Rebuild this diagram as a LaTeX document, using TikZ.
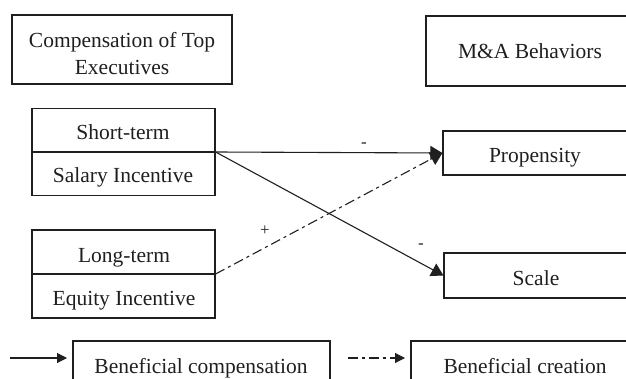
\documentclass[tikz,border=0pt]{standalone}
\usepackage{fontspec}
\setmainfont{Liberation Serif}
\usetikzlibrary{arrows.meta}
\definecolor{ink}{gray}{0.12}
\tikzset{
  box/.style={draw=ink, line width=1.2pt, rectangle, inner sep=0pt},
  txt/.style={inner sep=0pt, anchor=base, font=\fontsize{21.5}{27}\selectfont, text=ink},
  lbl/.style={inner sep=0pt, font=\fontsize{17}{18}\selectfont, text=ink},
  conn/.style={draw=ink, line width=1.1pt, -{Triangle[length=12pt,width=14pt]}},
  legarrow/.style={draw=ink, line width=1.1pt, -{Triangle[length=10pt,width=10pt]}},
  dashdot/.style={dash pattern=on 10pt off 4pt on 3pt off 4pt}
}
\begin{document}
\begin{tikzpicture}[x=1pt,y=-1pt]
\useasboundingbox (0,0) rectangle (626,379);
\clip (0,0) rectangle (626,379);
% header boxes
\node[box, minimum width=220pt, minimum height=69pt] (comp) at (122,49.5) {};
\node[inner sep=0pt, align=center, font=\fontsize{21.5}{27}\selectfont, text=ink] (comptxt) at (122,53.5) {Compensation of Top\\Executives};
\node[box, minimum width=220pt, minimum height=70pt] (ma) at (536,51) {};
\node[txt] (matxt) at (530,59) {M\&A Behaviors};
% short-term box
\node[box, minimum width=183pt, minimum height=87pt] (short) at (123.5,152) {};
\draw[draw=ink, line width=1.2pt] (short.west) -- (short.east);
\node[txt] (shorttop) at (123,140) {Short-term};
\node[txt] (shortbot) at (123,183) {Salary Incentive};
% long-term box
\node[box, minimum width=183pt, minimum height=88pt] (long) at (123.5,274) {};
\draw[draw=ink, line width=1.2pt] (long.west) -- (long.east);
\node[txt] (longtop) at (124,262) {Long-term};
\node[txt] (longbot) at (124,305) {Equity Incentive};
% right boxes
\node[box, minimum width=200pt, minimum height=44pt] (prop) at (543,153) {};
\node[txt] (proptxt) at (535,163) {Propensity};
\node[box, minimum width=200pt, minimum height=45pt] (scale) at (544,275.5) {};
\node[txt] (scaletxt) at (536,285) {Scale};
% connectors
\draw[conn] (short.east) -- (prop.west);
\draw[conn] (short.east) -- (scale.west);
\draw[conn, dashdot] (long.east) -- (prop.west);
\node[lbl] (m1) at (364,145) {-};
\node[lbl] (p1) at (265,231) {+};
\node[lbl] (m2) at (421,246) {-};
% legend
\coordinate (la1) at (10,358);
\coordinate (la2) at (67,358);
\draw[legarrow] (la1) -- (la2);
\node[box, minimum width=257pt, minimum height=70pt] (leg1) at (201.5,376) {};
\node[txt] (leg1txt) at (201,373) {Beneficial compensation};
\coordinate (lb1) at (348,358);
\coordinate (lb2) at (405,358);
\draw[legarrow, dashdot] (lb1) -- (lb2);
\node[box, minimum width=228pt, minimum height=70pt] (leg2) at (525,376) {};
\node[txt] (leg2txt) at (525,373) {Beneficial creation};
\end{tikzpicture}
\end{document}
